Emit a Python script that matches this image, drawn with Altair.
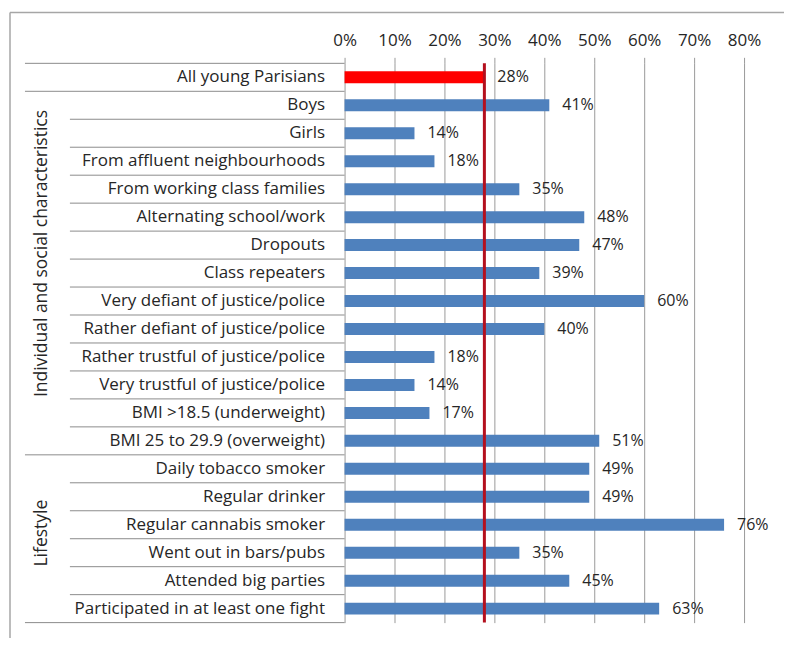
import altair as alt
import pandas as pd

categories = [
    "All young Parisians",
    "Boys",
    "Girls",
    "From affluent neighbourhoods",
    "From working class families",
    "Alternating school/work",
    "Dropouts",
    "Class repeaters",
    "Very defiant of justice/police",
    "Rather defiant of justice/police",
    "Rather trustful of justice/police",
    "Very trustful of justice/police",
    "BMI >18.5 (underweight)",
    "BMI 25 to 29.9 (overweight)",
    "Daily tobacco smoker",
    "Regular drinker",
    "Regular cannabis smoker",
    "Went out in bars/pubs",
    "Attended big parties",
    "Participated in at least one fight",
]
values = [28, 41, 14, 18, 35, 48, 47, 39, 60, 40, 18, 14, 17, 51, 49, 49, 76, 35, 45, 63]
kinds = ["avg"] + ["sub"] * 19
group_starts = ["All young Parisians", "Boys", "Daily tobacco smoker"]
last_row = ["Participated in at least one fight"]
group_names = ["Individual and social characteristics", "Lifestyle"]
group_anchor_rows = ["Dropouts", "Regular cannabis smoker"]
x_ticks = [0, 10, 20, 30, 40, 50, 60, 70, 80]

FONT = "Open Sans"
TXT = "#262626"
GRID = "#9a9a9a"
LINE = "#8c8c8c"

df = pd.DataFrame({"category": categories, "value": values, "kind": kinds})
df["sep"] = ["full" if c in group_starts else "part" for c in categories]
gdf = pd.DataFrame({"category": group_anchor_rows, "group": group_names})
bdf = pd.DataFrame({"category": last_row})

yscale = alt.Scale(paddingInner=0, paddingOuter=0)
yaxis = alt.Axis(title=None, ticks=False, domain=False, labelPadding=20,
                 labelFontSize=17, labelFont=FONT, labelColor=TXT, labelLimit=400)
xscale = alt.Scale(domain=[0, 80])
xaxis = alt.Axis(orient="top", values=x_ticks, labelExpr="datum.value + '%'", title=None,
                 domain=False, tickSize=6, tickColor=GRID, grid=True, gridColor=GRID,
                 gridOpacity=1, labelPadding=8, labelFontSize=17, labelFont=FONT,
                 labelColor=TXT, labelFlush=False)

base = alt.Chart(df)

bars = base.mark_bar(size=12).encode(
    x=alt.X("value:Q", scale=xscale, axis=xaxis),
    y=alt.Y("category:N", sort=categories, scale=yscale, axis=yaxis),
    color=alt.Color("kind:N", scale=alt.Scale(domain=["avg", "sub"], range=["#ff0000", "#4f81bd"]), legend=None),
)

labels = base.transform_calculate(lbl="datum.value + '%'").mark_text(
    align="left", baseline="middle", dx=13, fontSize=16, font=FONT, color=TXT
).encode(
    x=alt.X("value:Q", scale=xscale),
    y=alt.Y("category:N", sort=categories),
    text="lbl:N",
)

avg_rule = base.transform_filter("datum.kind == 'avg'").mark_rule(color="#b4101e", strokeWidth=3).encode(
    x=alt.X("value:Q", scale=xscale),
)

sep_full = base.transform_filter("datum.sep == 'full'").mark_rule(color=LINE, strokeWidth=1).encode(
    y=alt.Y("category:N", sort=categories, bandPosition=0),
    x=alt.value(-320), x2=alt.value(0),
)
sep_part = base.transform_filter("datum.sep == 'part'").mark_rule(color=LINE, strokeWidth=1).encode(
    y=alt.Y("category:N", sort=categories, bandPosition=0),
    x=alt.value(-275), x2=alt.value(0),
)
sep_bottom = alt.Chart(bdf).mark_rule(color=LINE, strokeWidth=1).encode(
    y=alt.Y("category:N", sort=categories, bandPosition=1),
    x=alt.value(-320), x2=alt.value(0),
)

group_text = alt.Chart(gdf).mark_text(angle=270, fontSize=17.5, font=FONT, color=TXT, align="center", baseline="middle").encode(
    y=alt.Y("category:N", sort=categories, bandPosition=0.8),
    x=alt.value(-303),
    text="group:N",
)

frame_df = pd.DataFrame({"a": [0]})
frame_color = "#a6a6a6"
frame_top = alt.Chart(frame_df).mark_rule(color=frame_color, strokeWidth=1.5).encode(
    x=alt.value(-335), x2=alt.value(442), y=alt.value(-51))
frame_left = alt.Chart(frame_df).mark_rule(color=frame_color, strokeWidth=1.5).encode(
    x=alt.value(-335), y=alt.value(-51), y2=alt.value(600))
frame_right = alt.Chart(frame_df).mark_rule(color=frame_color, strokeWidth=1.5).encode(
    x=alt.value(442), y=alt.value(-51), y2=alt.value(600))

chart = alt.layer(
    frame_top, frame_left, frame_right,
    sep_full, sep_part, sep_bottom, bars, avg_rule, labels, group_text,
).properties(
    width=400, height=560,
    autosize=alt.AutoSizeParams(type="none"),
    padding={"left": 337, "top": 55, "right": 40, "bottom": 15},
    background="white",
).configure_view(stroke=None)

chart.save("out.html", embed_options={"renderer": "svg", "actions": False})
